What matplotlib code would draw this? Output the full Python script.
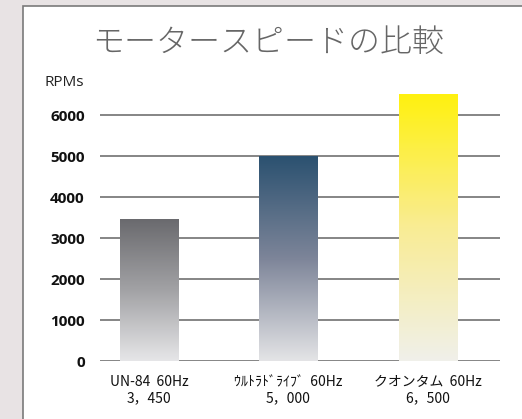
import numpy as np
import matplotlib
matplotlib.use("Agg")
import matplotlib.pyplot as plt
from matplotlib.colors import LinearSegmentedColormap
from matplotlib.patches import Rectangle

# data
motors = ["UN-84  60Hz", "ｳﾙﾄﾗﾄﾞﾗｲﾌﾞ  60Hz", "クオンタム  60Hz"]
speed_labels = ["3，450", "5，000", "6，500"]
rpm = [3450, 5000, 6500]
yticks = [0, 1000, 2000, 3000, 4000, 5000, 6000]

# gradient colours (top, middle, bottom)
grads = [
    ["#6a6a6e", "#a2a2a5", "#e6e6e8"],
    ["#2b5170", "#7d8599", "#e4e4e6"],
    ["#fff10f", "#f9ec94", "#f0f0ea"],
]

jp = ["Noto Sans CJK JP", "DejaVu Sans"]

fig = plt.figure(figsize=(5.22, 4.19), dpi=100)
fig.patch.set_facecolor("#e8e3e4")

# white panel
W, H = 522, 419
panel = Rectangle((23 / W, -0.1), 1, (H - 6) / H + 0.1, transform=fig.transFigure,
                  facecolor="white", edgecolor="#7a7a7a", linewidth=1.2, zorder=-5)
fig.patches.append(panel)

bottom_px, top_px = 361, 90.4
ax = fig.add_axes([100 / W, (H - bottom_px) / H, 400 / W, (bottom_px - top_px) / H])
ax.set_facecolor("none")
ax.set_zorder(2)

x = np.arange(len(rpm))
bars = ax.bar(x, rpm, width=0.416, color="none", zorder=3)

for b, g in zip(bars, grads):
    cmap = LinearSegmentedColormap.from_list("g", g[::-1])
    x0, w, h = b.get_x(), b.get_width(), b.get_height()
    grad = np.linspace(0, 1, 256).reshape(-1, 1)
    ax.imshow(grad, cmap=cmap, origin="lower", aspect="auto",
              extent=[x0, x0 + w, 0, h], zorder=3)
ax.set_xlim(-0.351, 2.516)
ax.set_ylim(0, 6600)

ax.set_yticks(yticks)
ax.set_yticklabels([str(t) for t in yticks], fontsize=11, fontweight="bold",
                   family="Open Sans", color="#111111")
ax.tick_params(axis="y", length=0, pad=11)
ax.tick_params(axis="x", length=0)
ax.set_xticks([])
ax.yaxis.grid(True, color="#7c7c7c", linewidth=1.3, zorder=1)
ax.set_axisbelow(True)
for s in ax.spines.values():
    s.set_visible(False)

for xi, name, sp in zip(x, motors, speed_labels):
    ax.annotate(name + "\n" + sp, xy=(xi, 0), xytext=(0, -10),
                textcoords="offset points", ha="center", va="top",
                fontsize=10, family=jp, color="#111111", linespacing=1.2,
                annotation_clip=False)

fig.text(45 / W, 1 - 82 / H, "RPMs", fontsize=11, family="Open Sans",
         color="#222222", va="center", ha="left")
fig.text(268 / W, 1 - 43 / H, "モータースピードの比較", fontsize=23,
         family=jp, fontweight="light", color="#666666", ha="center", va="center")

fig.savefig("out.png", dpi=100, facecolor=fig.get_facecolor())
